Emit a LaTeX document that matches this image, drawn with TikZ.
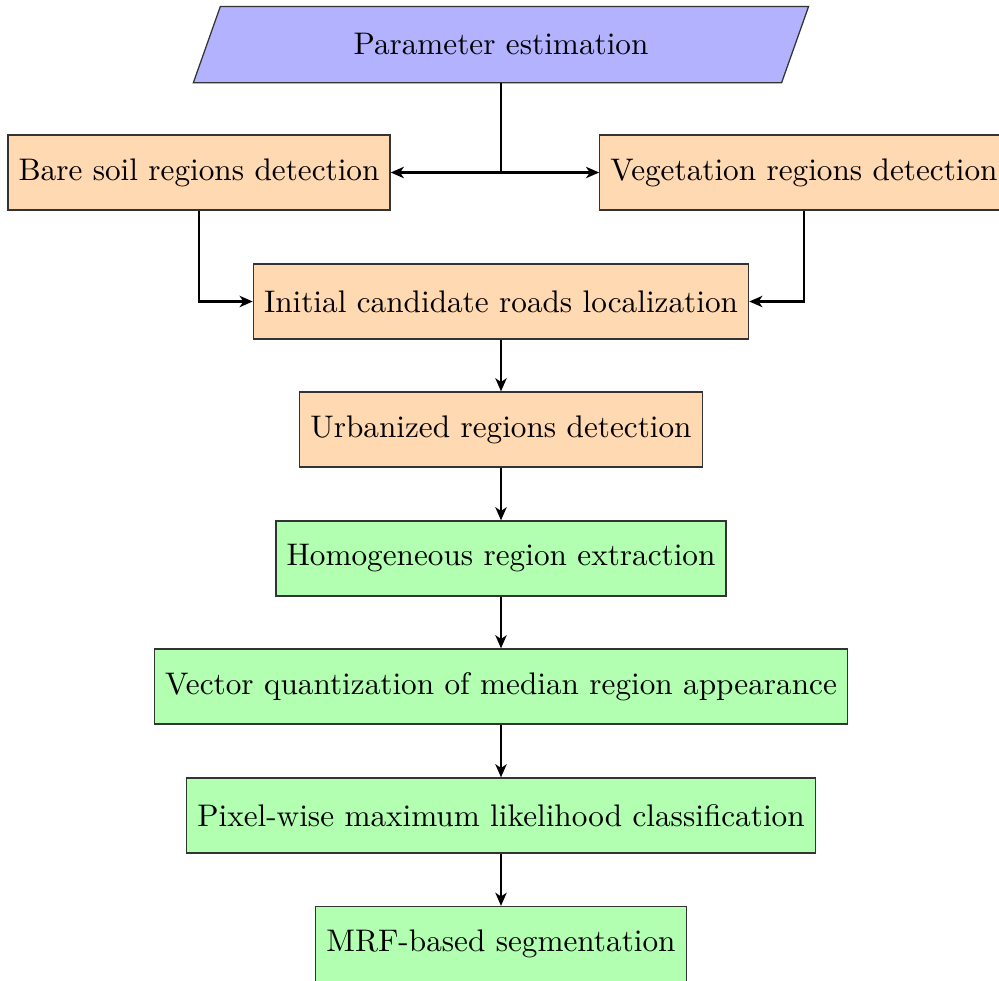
\documentclass[tikz,border=0pt]{standalone}
\usetikzlibrary{arrows.meta,backgrounds}
\newcommand\pxunit{0.3202pt}
\begin{document}
\begin{tikzpicture}[x=\pxunit,y=-\pxunit,
  box/.style={draw=black!80,line width=0.4pt,minimum height=75*\pxunit,inner xsep=3.4pt,anchor=center},
  orbox/.style={box,fill=orange!30},
  grbox/.style={box,fill=green!30},
  conn/.style={draw=black,line width=0.8pt,-{Stealth[length=4.2pt,width=3.6pt,inset=1.2pt]}},
  plain/.style={draw=black,line width=0.8pt}]
\useasboundingbox (0,0) rectangle (999,980);
\node[minimum width=614*\pxunit,minimum height=75*\pxunit,inner sep=0pt] (param) at (501,44.5) {Parameter estimation};
\begin{scope}[on background layer]
\draw[fill=blue!30,draw=black!80,line width=0.4pt] (param.south west) -- ([xshift=-27*\pxunit]param.south east) -- (param.north east) -- ([xshift=27*\pxunit]param.north west) -- cycle;
\end{scope}
\node[orbox] (bare) at (199,172.5) {Bare soil regions detection};
\node[orbox] (veg) at (804,172.5) {Vegetation regions detection};
\node[orbox] (init) at (501,301.5) {Initial candidate roads localization};
\node[orbox] (urb) at (501,429.5) {Urbanized regions detection};
\node[grbox] (homo) at (501,558.5) {Homogeneous region extraction};
\node[grbox] (vq) at (501,686.5) {Vector quantization of median region appearance};
\node[grbox] (pix) at (501,815.5) {Pixel-wise maximum likelihood classification};
\node[grbox] (mrf) at (501,944) {MRF-based segmentation};
\coordinate (split) at (param.south |- bare.east);
\draw[plain] (param.south) -- (split);
\draw[conn] (split) -- (bare.east);
\draw[conn] (split) -- (veg.west);
\draw[conn] (bare.south) |- (init.west);
\draw[conn] (veg.south) |- (init.east);
\draw[conn] (init) -- (urb);
\draw[conn] (urb) -- (homo);
\draw[conn] (homo) -- (vq);
\draw[conn] (vq) -- (pix);
\draw[conn] (pix) -- (mrf);
\end{tikzpicture}
\end{document}
